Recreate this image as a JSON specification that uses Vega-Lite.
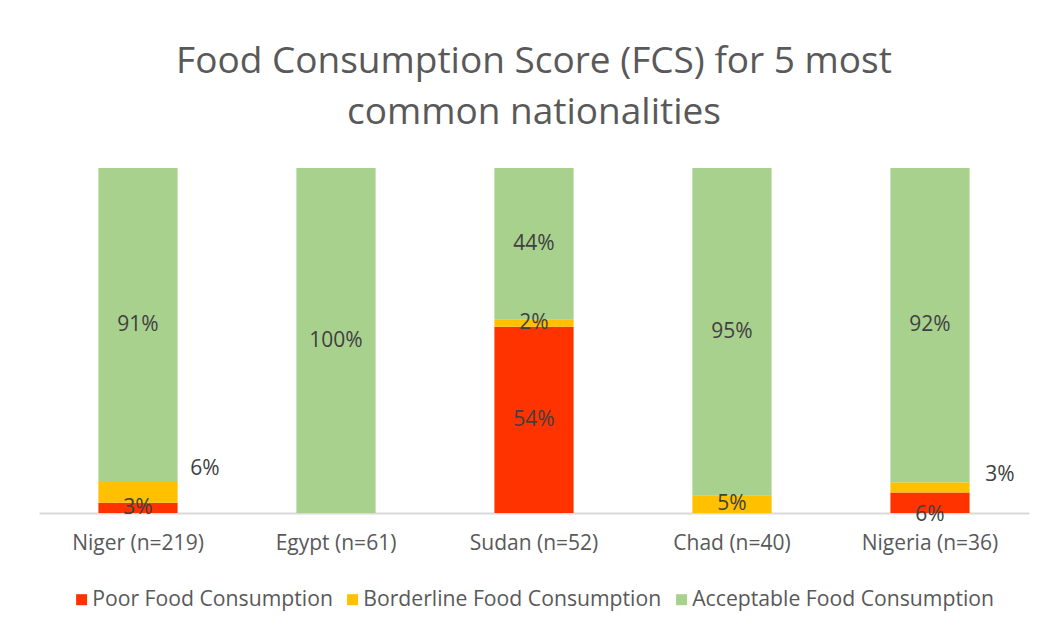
{
  "$schema": "https://vega.github.io/schema/vega-lite/v6.json",
  "width": 990,
  "height": 345,
  "autosize": {"type": "none"},
  "padding": {"left": 39, "top": 168, "right": 13, "bottom": 119},
  "background": "white",
  "title": {
    "text": ["Food Consumption Score (FCS) for 5 most", "common nationalities"],
    "font": "Open Sans",
    "fontSize": 37,
    "fontWeight": "normal",
    "color": "#595959",
    "lineHeight": 51,
    "anchor": "middle",
    "offset": 36
  },
  "data": {
    "values": [
      {"country": "Niger (n=219)", "cat": "Poor Food Consumption", "pct": 3},
      {"country": "Niger (n=219)", "cat": "Borderline Food Consumption", "pct": 6},
      {"country": "Niger (n=219)", "cat": "Acceptable Food Consumption", "pct": 91},
      {"country": "Egypt (n=61)", "cat": "Acceptable Food Consumption", "pct": 100},
      {"country": "Sudan (n=52)", "cat": "Poor Food Consumption", "pct": 54},
      {"country": "Sudan (n=52)", "cat": "Borderline Food Consumption", "pct": 2},
      {"country": "Sudan (n=52)", "cat": "Acceptable Food Consumption", "pct": 44},
      {"country": "Chad (n=40)", "cat": "Borderline Food Consumption", "pct": 5},
      {"country": "Chad (n=40)", "cat": "Acceptable Food Consumption", "pct": 95},
      {"country": "Nigeria (n=36)", "cat": "Poor Food Consumption", "pct": 6},
      {"country": "Nigeria (n=36)", "cat": "Borderline Food Consumption", "pct": 3},
      {"country": "Nigeria (n=36)", "cat": "Acceptable Food Consumption", "pct": 92}
    ]
  },
  "transform": [
    {"stack": "pct", "groupby": ["country"], "sort": [{"field": "cat", "order": "descending"}], "offset": "normalize", "as": ["y0", "y1"]},
    {"calculate": "(datum.y0 + datum.y1) / 2", "as": "ymid"},
    {"calculate": "datum.pct + '%'", "as": "lbl"}
  ],
  "encoding": {
    "x": {
      "field": "country",
      "type": "nominal",
      "sort": null,
      "scale": {"paddingInner": 0.6, "paddingOuter": 0.3},
      "axis": {
        "title": null,
        "labelAngle": 0,
        "labelFont": "Open Sans",
        "labelFontSize": 21,
        "labelColor": "#595959",
        "labelPadding": 19,
        "ticks": false,
        "domainColor": "#d9d9d9",
        "domainWidth": 2
      }
    }
  },
  "layer": [
    {
      "mark": {"type": "bar"},
      "encoding": {
        "y": {"field": "y0", "type": "quantitative", "scale": {"domain": [0, 1]}, "axis": null},
        "y2": {"field": "y1"},
        "color": {
          "field": "cat",
          "type": "nominal",
          "scale": {
            "domain": ["Poor Food Consumption", "Borderline Food Consumption", "Acceptable Food Consumption"],
            "range": ["#ff3300", "#ffc000", "#a9d18e"]
          },
          "legend": {
            "title": null,
            "orient": "none",
            "legendX": 32,
            "legendY": 421,
            "direction": "horizontal",
            "symbolType": "square",
            "symbolSize": 121,
            "symbolStrokeWidth": 0,
            "labelFont": "Open Sans",
            "labelFontSize": 21.2,
            "labelColor": "#595959",
            "labelLimit": 500,
            "columnPadding": 9,
            "labelOffset": 0
          }
        }
      }
    },
    {
      "transform": [{"filter": "!((datum.country == 'Niger (n=219)' && datum.cat == 'Borderline Food Consumption') || (datum.country == 'Nigeria (n=36)' && datum.cat != 'Acceptable Food Consumption'))"}],
      "mark": {"type": "text", "font": "Open Sans", "fontSize": 21, "color": "#404040"},
      "encoding": {
        "y": {"field": "ymid", "type": "quantitative"},
        "text": {"field": "lbl"}
      }
    },
    {
      "transform": [{"filter": "datum.country == 'Niger (n=219)' && datum.cat == 'Borderline Food Consumption'"}],
      "mark": {"type": "text", "font": "Open Sans", "fontSize": 21, "color": "#404040", "dx": 67, "dy": -23},
      "encoding": {
        "y": {"field": "ymid", "type": "quantitative"},
        "text": {"field": "lbl"}
      }
    },
    {
      "transform": [{"filter": "datum.country == 'Nigeria (n=36)' && datum.cat == 'Borderline Food Consumption'"}],
      "mark": {"type": "text", "font": "Open Sans", "fontSize": 21, "color": "#404040", "dx": 70, "dy": -12},
      "encoding": {
        "y": {"field": "ymid", "type": "quantitative"},
        "text": {"field": "lbl"}
      }
    },
    {
      "transform": [{"filter": "datum.country == 'Nigeria (n=36)' && datum.cat == 'Poor Food Consumption'"}],
      "mark": {"type": "text", "font": "Open Sans", "fontSize": 21, "color": "#404040", "dy": 12},
      "encoding": {
        "y": {"field": "ymid", "type": "quantitative"},
        "text": {"field": "lbl"}
      }
    }
  ],
  "config": {"view": {"stroke": null}}
}
